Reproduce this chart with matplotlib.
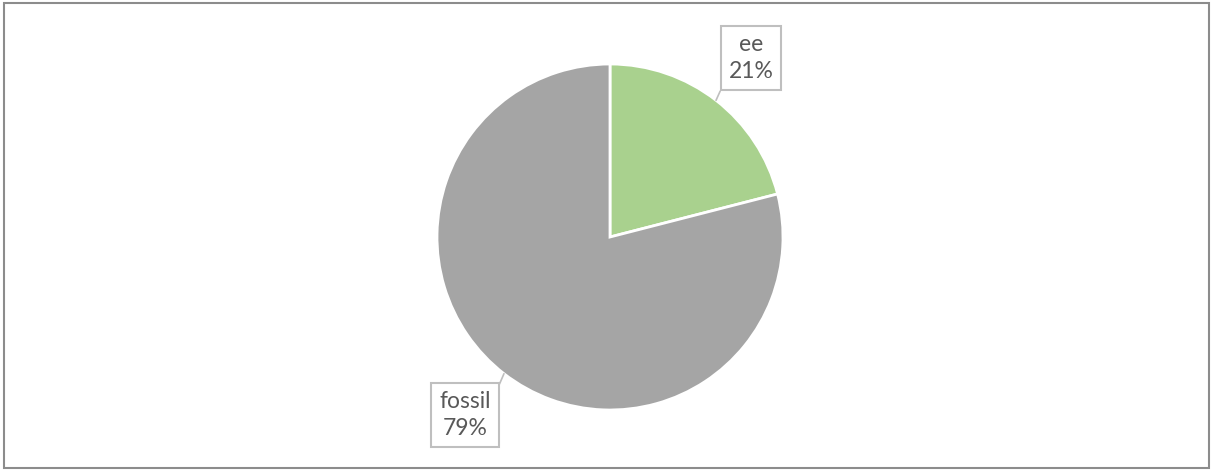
import numpy as np
import matplotlib.pyplot as plt
from matplotlib.patches import Rectangle

# data
labels = ['ee', 'fossil']
shares = [21, 79]
colors = ['#A9D18E', '#A5A5A5']
# label box centres (pixels from bottom-left)
label_pos = [(751, 412), (465, 55)]

W, H = 1213, 470
fig = plt.figure(figsize=(W / 100, H / 100), dpi=100)
ax = fig.add_axes([0, 0, 1, 1])

cx, cy, r = 610, 233, 173
wedges, _ = ax.pie(shares, colors=colors, startangle=90, counterclock=False,
                   center=(cx, cy), radius=r,
                   wedgeprops=dict(edgecolor='white', linewidth=2))
ax.set_xlim(0, W)
ax.set_ylim(0, H)
ax.set_aspect('equal')
ax.axis('off')

total = sum(shares)
relpos = [(0.0, 0.2), (1.0, 0.72)]
for w, name, val, pos, rp in zip(wedges, labels, shares, label_pos, relpos):
    mid = np.deg2rad((w.theta1 + w.theta2) / 2)
    px = cx + r * np.cos(mid)
    py = cy + r * np.sin(mid)
    ax.annotate(f'{name}\n{val / total * 100:.0f}%', xy=(px, py), xytext=pos,
                ha='center', va='center', fontsize=16.5, family='Lato',
                color='#595959', linespacing=1.4,
                bbox=dict(boxstyle='square,pad=0.35', fc='white', ec='#BFBFBF', lw=1.5),
                arrowprops=dict(arrowstyle='-', color='#BFBFBF', lw=1.2,
                                shrinkA=0, shrinkB=0, relpos=rp))

# outer chart border
fig.patches.append(Rectangle((0.003, 0.005), 0.994, 0.989, transform=fig.transFigure,
                             fill=False, ec='#8C8C8C', lw=1.5))

fig.savefig('out.png', dpi=100)
